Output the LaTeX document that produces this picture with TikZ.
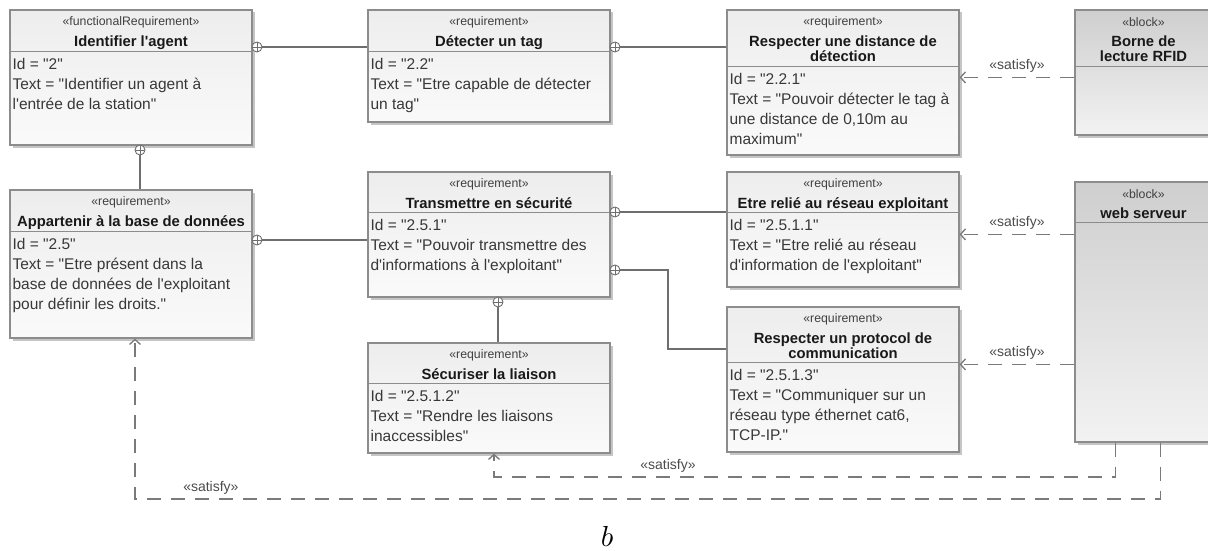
\documentclass[tikz,border=0pt]{standalone}
\usepackage{fontspec}
\newfontfamily\umlfont{Liberation Sans}
\usetikzlibrary{fit,shadows,arrows.meta}
\definecolor{framegray}{HTML}{8C8C8C}
\definecolor{linkgray}{HTML}{6E6E6E}
\definecolor{dashgray}{HTML}{7A7A7A}
% one requirement / block: name, frame style, top left, bottom right,
% header height, stereotype, title, compartment text
\newcommand{\reqbox}[8]{%
  \node[#2, fit={(#3) (#4)}] (#1) {};
  \draw[divider] ([yshift=-#5pt]#1.north west) -- ([yshift=-#5pt]#1.north east);
  \node[stereo] (#1s) at ([yshift=-13pt]#1.north) {«#6»};
  \node[reqtitle, anchor=north] (#1t) at ([yshift=-26pt]#1.north) {#7};
  \node[reqbody, anchor=north west] (#1b) at ([xshift=3pt,yshift=-#5pt-7pt]#1.north west) {#8};
}

\begin{document}
\begin{tikzpicture}[x=1pt, y=-1pt,
  reqframe/.style={draw=framegray, line width=1.2pt, inner sep=0pt,
    top color=black!7, bottom color=black!2,
    drop shadow={shadow xshift=2.5pt, shadow yshift=-2.5pt, fill=black!45, opacity=.5}},
  blockframe/.style={reqframe, top color=black!19, bottom color=black!5},
  divider/.style={draw=framegray, line width=1.1pt},
  stereo/.style={font=\umlfont\fontsize{12.3}{12.3}\selectfont, inner sep=0pt, text=black!75},
  reqtitle/.style={font=\umlfont\bfseries\fontsize{14.8}{15.5}\selectfont, align=center, inner sep=0pt, text=black!90},
  reqbody/.style={font=\umlfont\fontsize{15.5}{20}\selectfont, align=left, inner sep=0pt, text=black!78},
  owner/.style={circle, draw=linkgray, fill=white, line width=.9pt, inner sep=0pt, minimum size=10pt,
    path picture={\draw[linkgray, line width=.8pt]
      (path picture bounding box.north) -- (path picture bounding box.south)
      (path picture bounding box.west) -- (path picture bounding box.east);}},
  contain/.style={draw=linkgray, line width=1.2pt},
  satisfy/.style={draw=dashgray, line width=1.3pt, dash pattern=on 14pt off 10pt,
    -{Straight Barb[length=5pt, width=11pt]}},
  satlabel/.style={font=\umlfont\fontsize{14}{14}\selectfont, text=black!70, inner sep=2pt}]
\clip (0,0) rectangle (1208,551);
\fill[white] (0,0) rectangle (1208,551);

\reqbox{A}{reqframe}{10,10}{252,145}{42}{functionalRequirement}{Identifier l'agent}
  {Id = "2"\\Text = "Identifier un agent à\\l'entrée de la station"}
\reqbox{B}{reqframe}{368,10}{610,122}{42}{requirement}{Détecter un tag}
  {Id = "2.2"\\Text = "Etre capable de détecter\\un tag"}
\reqbox{C}{reqframe}{727,10}{959,155}{57}{requirement}{Respecter une distance de\\détection}
  {Id = "2.2.1"\\Text = "Pouvoir détecter le tag à\\une distance de 0,10m au\\maximum"}
\reqbox{D}{blockframe}{1075,10}{1212,135}{57}{block}{Borne de\\lecture RFID}{}
\reqbox{E}{reqframe}{10,190}{252,338}{42}{requirement}{Appartenir à la base de données}
  {Id = "2.5"\\Text = "Etre présent dans la\\base de données de l'exploitant\\pour définir les droits."}
\reqbox{F}{reqframe}{368,172}{610,297}{41}{requirement}{Transmettre en sécurité}
  {Id = "2.5.1"\\Text = "Pouvoir transmettre des\\d'informations à l'exploitant"}
\reqbox{G}{reqframe}{727,172}{959,287}{41}{requirement}{Etre relié au réseau exploitant}
  {Id = "2.5.1.1"\\Text = "Etre relié au réseau\\d'information de l'exploitant"}
\reqbox{H}{blockframe}{1075,182}{1212,442}{41}{block}{web serveur}{}
\reqbox{I}{reqframe}{368,343}{610,453}{41}{requirement}{Sécuriser la liaison}
  {Id = "2.5.1.2"\\Text = "Rendre les liaisons\\inaccessibles"}
\reqbox{J}{reqframe}{727,307}{959,452}{56}{requirement}{Respecter un protocol de\\communication}
  {Id = "2.5.1.3"\\Text = "Communiquer sur un\\réseau type éthernet cat6,\\TCP-IP."}

% containment
\foreach \o/\p in {oAB/{257,47}, oBC/{615,47}, oAE/{140,150}, oEF/{257,240},
                   oFG/{615,212}, oFJ/{615,270}, oFI/{498,302}}
  \node[owner] (\o) at (\p) {};
\coordinate (bendFJ) at (668,349);
\draw[contain] (oAB) -- (oAB -| B.west);
\draw[contain] (oBC) -- (oBC -| C.west);
\draw[contain] (oAE) -- (oAE |- E.north);
\draw[contain] (oEF) -- (oEF -| F.west);
\draw[contain] (oFG) -- (oFG -| G.west);
\draw[contain] (oFJ) -| (bendFJ) -- (bendFJ -| J.west);
\draw[contain] (oFI) -- (oFI |- I.north);

% satisfy
\coordinate (cHI) at (494,477);
\coordinate (cHE) at (135,499);
\draw[satisfy] ([yshift=-68pt]D.north west) coordinate (sD)
  -- node[satlabel, above=2pt] {«satisfy»} (sD -| C.east);
\draw[satisfy] ([yshift=-53pt]H.north west) coordinate (sHG)
  -- node[satlabel, above=2pt] {«satisfy»} (sHG -| G.east);
\draw[satisfy] ([yshift=-183pt]H.north west) coordinate (sHJ)
  -- node[satlabel, above=2pt] {«satisfy»} (sHJ -| J.east);
\draw[satisfy] ([xshift=41pt]H.south west)
  |- node[satlabel, pos=.86, above=2pt] {«satisfy»} (cHI) -- (cHI |- I.south);
\draw[satisfy] ([xshift=86pt]H.south west)
  |- node[satlabel, pos=.963, above=2pt] {«satisfy»} (cHE) -- (cHE |- E.south);

\node[scale=2.9] (fig) at (607,536) {$b$};
\end{tikzpicture}
\end{document}
